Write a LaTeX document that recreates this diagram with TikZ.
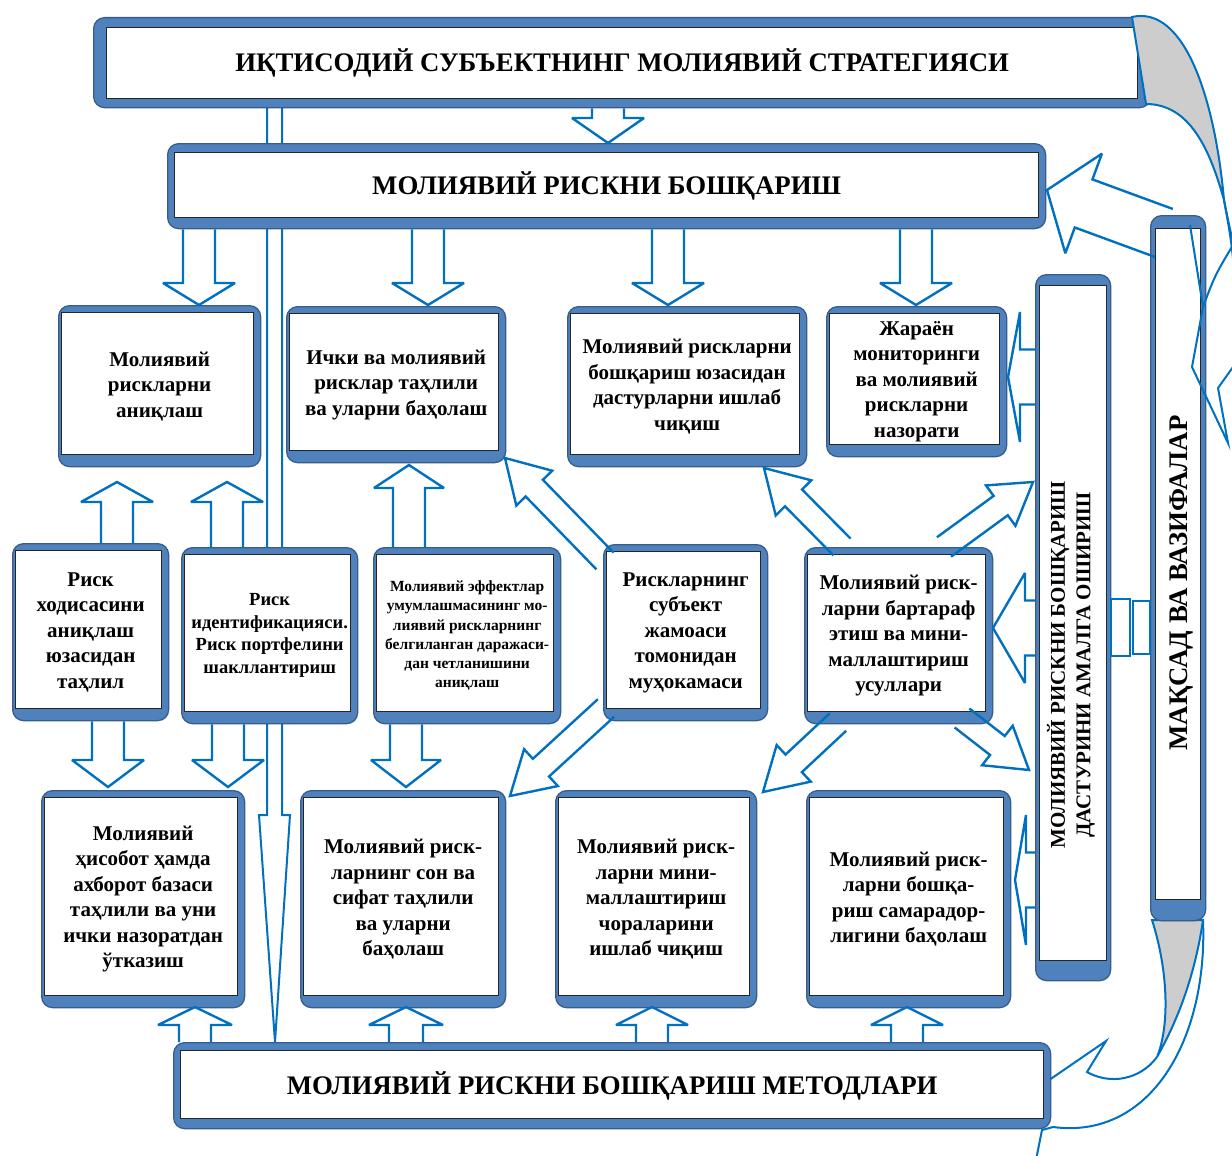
\documentclass[tikz,border=0pt]{standalone}
\usepackage{fontspec}
\setmainfont{Liberation Serif}
\usetikzlibrary{calc}
\definecolor{boxblue}{RGB}{79,129,189}
\definecolor{boxedge}{RGB}{56,93,138}
\definecolor{arrblue}{RGB}{0,112,192}
\definecolor{crescent}{RGB}{205,205,205}
\newcommand\barrow[5]{%
  \coordinate (bh) at ($(#2)!#5!(#1)$);
  \draw[arr] ($(#1)!#3!90:(#2)$) -- ($(bh)!#3!90:(#2)$) -- ($(bh)!#4!90:(#2)$) -- (#2)
     -- ($(bh)!#4!-90:(#2)$) -- ($(bh)!#3!-90:(#2)$) -- ($(#1)!#3!-90:(#2)$);}
\tikzset{
  bluebox/.style n args={4}{shape=rectangle, rounded corners=11pt, fill=boxblue, draw=boxedge,
    line width=1.3pt, inner sep=0pt, align=center, anchor=north west,
    path picture={\draw[line width=1.6pt, draw=black!85, fill=white, sharp corners]
      ($(path picture bounding box.north west)+(#1pt,-#2pt)$) rectangle
      ($(path picture bounding box.south east)+(-#3pt,#4pt)$);}},
  bodyf/.style={font=\bfseries\fontsize{21}{25.5}\selectfont},
  headf/.style={font=\bfseries\fontsize{26.8}{30}\selectfont},
  arr/.style={draw=arrblue, line width=2.4pt, line join=miter, miter limit=3},
  arrthin/.style={draw=arrblue, line width=2pt, line join=miter},
}
\begin{document}
\begin{tikzpicture}[x=1pt,y=-1pt]
\useasboundingbox (0,0) rectangle (1232,1156);
\clip (0,0) rectangle (1232,1156);
\fill[white] (0,0) rectangle (1232,1156);

% long thin arrow from the strategy box down to the methods box (behind boxes)
\coordinate (lvA) at (267,107);
\coordinate (lvB) at (282,107);
\coordinate (lvTip) at (275,1042);
\draw[arrthin] (lvA) -- (267,815) -- (259,815) -- (lvTip) -- (290,815) -- (282,815) -- (lvB);

% bottom right curved arrow (partly hidden behind the methods box)
\filldraw[fill=crescent, arrthin] (1152,920) .. controls (1168,970) and (1170,1025) .. (1157,1057)
   .. controls (1178,1020) and (1195,975) .. (1203,920) -- cycle;
\draw[arrthin] (1203,920) .. controls (1208,1040) and (1150,1140) .. (1053,1127);
\draw[arrthin] (1157,1057) .. controls (1140,1080) and (1110,1085) .. (1087,1072) -- (1106,1041) -- (1020,1100);
\draw[arrthin] (1053,1127) -- (1042,1130) -- (1034,1170);

% ---- boxes ----
\node[bluebox={13}{10}{13}{9}, headf, minimum width=1057pt, minimum height=90pt] (top) at (93,17)
  {ИҚТИСОДИЙ СУБЪЕКТНИНГ МОЛИЯВИЙ СТРАТЕГИЯСИ};
\node[bluebox={7}{9}{7}{11}, headf, minimum width=878pt, minimum height=85pt] (mgmt) at (167,143)
  {МОЛИЯВИЙ РИСКНИ БОШҚАРИШ};
\node[bluebox={7}{8}{7}{10}, headf, minimum width=877pt, minimum height=86pt] (meth) at (173,1042)
  {МОЛИЯВИЙ РИСКНИ БОШҚАРИШ МЕТОДЛАРИ};

\node[bluebox={3}{7}{7}{12}, bodyf, minimum width=202pt, minimum height=161pt] (b1) at (58,305)
  {Молиявий\\рискларни\\аниқлаш};
\node[bluebox={3}{7}{7}{12}, bodyf, minimum width=219pt, minimum height=156pt] (b2) at (286,306)
  {Ички ва молиявий\\рисклар таҳлили\\ва уларни баҳолаш};
\node[bluebox={3}{7}{7}{12}, bodyf, minimum width=239pt, minimum height=160pt] (b3) at (567,306)
  {Молиявий рискларни\\бошқариш юзасидан\\дастурларни ишлаб\\чиқиш};
\node[bluebox={3}{7}{7}{12}, bodyf, minimum width=180pt, minimum height=150pt] (b4) at (826,306)
  {Жараён\\мониторинги\\ва молиявий\\рискларни\\назорати};

\node[bluebox={3}{7}{7}{12}, bodyf, minimum width=156pt, minimum height=177pt] (c1) at (12,543)
  {Риск\\ходисасини\\аниқлаш\\юзасидан\\таҳлил};
\node[bluebox={3}{7}{7}{12}, font=\bfseries\fontsize{18.5}{22.5}\selectfont, minimum width=176pt, minimum height=176pt] (c2) at (181,547)
  {Риск\\идентификацияси.\\Риск портфелини\\шакллантириш};
\node[bluebox={3}{7}{7}{12}, font=\bfseries\fontsize{15.5}{19.3}\selectfont, minimum width=187pt, minimum height=176pt] (c3) at (373,547)
  {Молиявий эффектлар\\умумлашмасининг мо-\\лиявий рискларнинг\\белгиланган даражаси-\\дан четланишини\\аниқлаш};
\node[bluebox={3}{7}{7}{12}, bodyf, minimum width=164pt, minimum height=176pt] (c4) at (603,544)
  {Рискларнинг\\субъект\\жамоаси\\томонидан\\муҳокамаси};
\node[bluebox={3}{7}{7}{12}, bodyf, minimum width=188pt, minimum height=176pt] (c5) at (804,547)
  {Молиявий риск-\\ларни бартараф\\этиш ва мини-\\маллаштириш\\усуллари};

\node[bluebox={3}{7}{7}{12}, bodyf, minimum width=203pt, minimum height=217pt] (d1) at (41,790)
  {Молиявий\\ҳисобот ҳамда\\ахборот базаси\\таҳлили ва уни\\ички назоратдан\\ўтказиш};
\node[bluebox={3}{7}{7}{12}, bodyf, minimum width=205pt, minimum height=217pt] (d2) at (300,790)
  {Молиявий риск-\\ларнинг сон ва\\сифат таҳлили\\ва уларни\\баҳолаш};
\node[bluebox={3}{7}{7}{12}, bodyf, minimum width=201pt, minimum height=217pt] (d3) at (555,790)
  {Молиявий риск-\\ларни мини-\\маллаштириш\\чораларини\\ишлаб чиқиш};
\node[bluebox={3}{7}{7}{12}, bodyf, minimum width=204pt, minimum height=217pt] (d4) at (806,790)
  {Молиявий риск-\\ларни бошқа-\\риш самарадор-\\лигини баҳолаш};

\node[bluebox={4}{11}{4}{20}, minimum width=75pt, minimum height=706pt] (v1) at (1035,274) {};
\node[rotate=90, bodyf, align=center, inner sep=0pt] (v1t) at (1071,665)
  {МОЛИЯВИЙ РИСКНИ БОШҚАРИШ\\ДАСТУРИНИ АМАЛГА ОШИРИШ};
\node[bluebox={5}{13}{5}{21}, minimum width=55pt, minimum height=705pt] (v2) at (1150,215) {};
\node[rotate=90, headf, inner sep=0pt] (v2t) at (1181,583) {МАҚСАД ВА ВАЗИФАЛАР};

% ---- block arrows ----
\coordinate (tA) at (608,143);
\barrow{top.south -| tA}{tA}{16pt}{36pt}{25pt}

\coordinate (t1) at (199,305); \barrow{mgmt.south -| t1}{t1}{16pt}{36pt}{22pt}
\coordinate (t2) at (428,305); \barrow{mgmt.south -| t2}{t2}{16pt}{36pt}{22pt}
\coordinate (t3) at (668,305); \barrow{mgmt.south -| t3}{t3}{16pt}{36pt}{22pt}
\coordinate (t4) at (916,305); \barrow{mgmt.south -| t4}{t4}{16pt}{36pt}{22pt}

\coordinate (u1) at (117,482); \barrow{c1.north -| u1}{u1}{16pt}{36pt}{20pt}
\coordinate (u2) at (227,482); \barrow{c2.north -| u2}{u2}{16pt}{36pt}{20pt}
\coordinate (u3) at (409,465); \barrow{c3.north -| u3}{u3}{16pt}{35pt}{23pt}

\coordinate (w1) at (108,787); \barrow{c1.south -| w1}{w1}{16pt}{36pt}{27pt}
\coordinate (w2) at (228,787); \barrow{c2.south -| w2}{w2}{16pt}{36pt}{27pt}
\coordinate (w3) at (406,787); \barrow{c3.south -| w3}{w3}{16pt}{35pt}{27pt}

\coordinate (m1) at (195,1007); \barrow{meth.north -| m1}{m1}{16pt}{37pt}{18pt}
\coordinate (m2) at (406,1007); \barrow{meth.north -| m2}{m2}{17pt}{37pt}{18pt}
\coordinate (m3) at (652,1007); \barrow{meth.north -| m3}{m3}{16pt}{36pt}{18pt}
\coordinate (m4) at (907,1007); \barrow{meth.north -| m4}{m4}{16pt}{36pt}{18pt}

% diagonal arrows
\coordinate (g1s) at (605,561); \coordinate (g1) at (505,458); \barrow{g1s}{g1}{12pt}{25pt}{42pt}
\coordinate (g2s) at (606,708); \coordinate (g2) at (510,796); \barrow{g2s}{g2}{12pt}{25pt}{42pt}
\coordinate (g3s) at (842,547); \coordinate (g3) at (764,468); \barrow{g3s}{g3}{12pt}{25pt}{42pt}
\coordinate (g4s) at (944,547); \coordinate (g4) at (1033,482); \barrow{g4s}{g4}{12pt}{25pt}{40pt}
\coordinate (g5s) at (838,722); \coordinate (g5) at (763,792); \barrow{g5s}{g5}{12pt}{25pt}{42pt}
\coordinate (g6s) at (962,718); \coordinate (g6) at (1029,770); \barrow{g6s}{g6}{12pt}{25pt}{40pt}

% arrows from the programme box to the left
\coordinate (h1) at (1008,377); \barrow{v1.west |- h1}{h1}{27.5pt}{65pt}{12pt}
\coordinate (h2) at (993,628);  \barrow{v1.west |- h2}{h2}{27.5pt}{55pt}{32pt}
\coordinate (h3) at (1015,880); \barrow{v1.west |- h3}{h3}{27.5pt}{65pt}{11pt}

% link between the two vertical boxes
\draw[arrthin] (v1.east |- 0,599) rectangle (1130,656);
\draw[arrthin] (1133,601) rectangle (v2.west |- 0,654);

% big arrow from the goals box to the management box
\coordinate (kS) at (1164,233); \coordinate (kT) at (1047,190);
\barrow{kS}{kT}{25.6pt}{53pt}{39pt}

% top right curved arrow
\filldraw[fill=crescent, arrthin] (1132,17) .. controls (1185,5) and (1215,100) .. (1224,200)
   .. controls (1210,150) and (1190,104) .. (1146,104) -- cycle;
\draw[arrthin] (1224,200) .. controls (1229,225) .. (1236,255);
\draw[arrthin] (1224,200) .. controls (1233,250) .. (1238,330);
\draw[arrthin] (1203,307) .. controls (1215,275) .. (1236,240);
\draw[arrthin] (1190,225) -- (1203,307) -- (1192,367) -- (1228,443) -- (1218,388) -- (1238,360);
\end{tikzpicture}
\end{document}
